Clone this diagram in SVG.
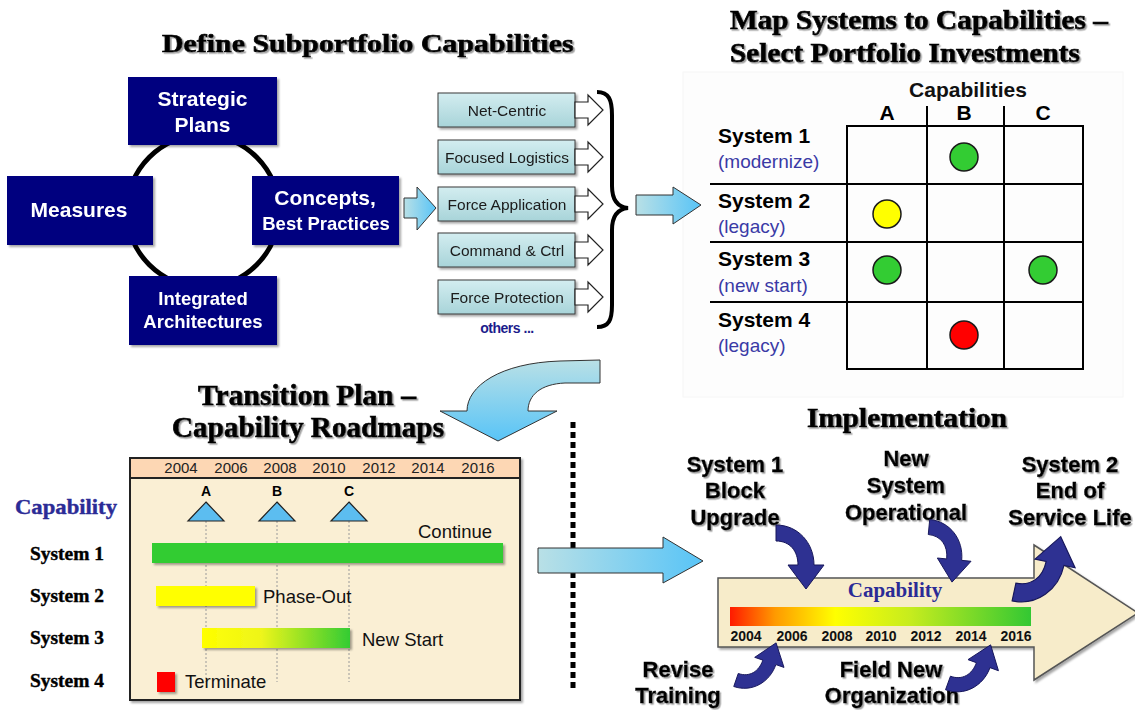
<svg xmlns="http://www.w3.org/2000/svg" width="1135" height="710" viewBox="0 0 1135 710">
  <style>
    .title { font-family: "Liberation Serif", "Times New Roman", serif; font-weight: bold; fill: #000; stroke: #000; stroke-width: 0.7; }
    .sans { font-family: "Liberation Sans", Arial, sans-serif; }
    .navybox { fill: #02027f; }
    .boxtxt { font-family: "Liberation Sans", Arial, sans-serif; font-weight: bold; fill: #fff; text-anchor: middle; }
    .capbox { fill: url(#gTeal); stroke: #3a3a3a; stroke-width: 1; }
    .captxt { font-family: "Liberation Sans", Arial, sans-serif; font-size: 15.5px; fill: #1a1a1a; text-anchor: middle; }
    .hollow { fill: #fff; stroke: #222; stroke-width: 1.2; }
    .grid { stroke: #000; stroke-width: 2; fill: none; }
    .sysname { font-family: "Liberation Sans", Arial, sans-serif; font-weight: bold; font-size: 21px; fill: #000; }
    .sysnote { font-family: "Liberation Sans", Arial, sans-serif; font-size: 19px; fill: #3a3aa6; }
    .dot { stroke: #1a1a1a; stroke-width: 1.5; }
    .rowlbl { font-family: "Liberation Serif", "Times New Roman", serif; font-weight: bold; font-size: 19px; fill: #000; stroke: #000; stroke-width: 0.4; }
    .yr { font-family: "Liberation Sans", Arial, sans-serif; font-size: 15px; fill: #222; text-anchor: middle; }
    .bartxt { font-family: "Liberation Sans", Arial, sans-serif; font-size: 18.5px; fill: #111; }
    .tri { fill: #5cbdf0; stroke: #222; stroke-width: 1.2; }
    .guide { stroke: #9a9a9a; stroke-width: 1; stroke-dasharray: 2 2; }
    .impl { font-family: "Liberation Sans", Arial, sans-serif; font-weight: bold; font-size: 22px; fill: #000; stroke: #000; stroke-width: 0.4; text-anchor: middle; }
    .bigyr { font-family: "Liberation Sans", Arial, sans-serif; font-weight: bold; font-size: 14px; fill: #111; text-anchor: middle; }
    .navyarrow { fill: #2e3192; stroke: #16165a; stroke-width: 1; }
    .blue { stroke: #333; stroke-width: 1; }
  </style>
  <defs>
    <linearGradient id="gTeal" x1="0" y1="0" x2="0" y2="1">
      <stop offset="0" stop-color="#d3edf0"/>
      <stop offset="1" stop-color="#a8d4d9"/>
    </linearGradient>
    <linearGradient id="gBlueH" x1="0" y1="0" x2="1" y2="0">
      <stop offset="0" stop-color="#b9e0e6"/>
      <stop offset="1" stop-color="#58c4f7"/>
    </linearGradient>
    <linearGradient id="gBlueV" x1="0" y1="0" x2="0" y2="1">
      <stop offset="0" stop-color="#b9e0e6"/>
      <stop offset="1" stop-color="#58c4f7"/>
    </linearGradient>
    <linearGradient id="gSys3" x1="0" y1="0" x2="1" y2="0">
      <stop offset="0" stop-color="#ffff00"/>
      <stop offset="0.4" stop-color="#eef51a"/>
      <stop offset="1" stop-color="#33cc33"/>
    </linearGradient>
    <linearGradient id="gCap" x1="0" y1="0" x2="1" y2="0">
      <stop offset="0" stop-color="#ff1a00"/>
      <stop offset="0.15" stop-color="#ff9a00"/>
      <stop offset="0.35" stop-color="#ffff00"/>
      <stop offset="0.6" stop-color="#c6ec1e"/>
      <stop offset="1" stop-color="#33c833"/>
    </linearGradient>
    <filter id="sh" x="-10%" y="-10%" width="130%" height="150%">
      <feDropShadow dx="2" dy="2" stdDeviation="1" flood-color="#000" flood-opacity="0.35"/>
    </filter>
    <filter id="tsh" x="-5%" y="-20%" width="115%" height="150%">
      <feDropShadow dx="1.5" dy="1.5" stdDeviation="0.6" flood-color="#777" flood-opacity="0.7"/>
    </filter>
    <!-- curved navy arrow, tail at origin, tip at (30,56) -->
    <path id="carrow" d="M0,-8 C22,-8 38,10 38,32 L48,32 L30,56 L12,32 L22,32 C22,18 14,8 0,8 Z"/>
  </defs>

  <rect width="1135" height="710" fill="#fff"/>
  <!-- faint panel behind the system/capability grid -->
  <rect x="683" y="72" width="440" height="325" fill="#fdfdfd" stroke="#f6f6f6" stroke-width="1"/>

  <!-- ===== Define Subportfolio Capabilities ===== -->
  <text class="title" transform="translate(162,52) scale(1.15,1)" font-size="26" filter="url(#tsh)">Define Subportfolio Capabilities</text>

  <circle cx="203" cy="211" r="76" fill="none" stroke="#000" stroke-width="5"/>

  <g id="strategic-plans" filter="url(#sh)">
    <rect class="navybox" x="128" y="77" width="149" height="68"/>
    <text class="boxtxt" x="202.5" y="106" font-size="21">Strategic</text>
    <text class="boxtxt" x="202.5" y="132" font-size="21">Plans</text>
  </g>
  <g id="measures" filter="url(#sh)">
    <rect class="navybox" x="7" y="176" width="146" height="69"/>
    <text class="boxtxt" x="79" y="217" font-size="21">Measures</text>
  </g>
  <g id="concepts" filter="url(#sh)">
    <rect class="navybox" x="252" y="176" width="147" height="69"/>
    <text class="boxtxt" x="325" y="205" font-size="21">Concepts,</text>
    <text class="boxtxt" x="326" y="230" font-size="18.5">Best Practices</text>
  </g>
  <g id="integrated-architectures" filter="url(#sh)">
    <rect class="navybox" x="129" y="276" width="148" height="69"/>
    <text class="boxtxt" x="203" y="305" font-size="18.5">Integrated</text>
    <text class="boxtxt" x="203" y="328" font-size="18.5">Architectures</text>
  </g>

  <!-- capability list -->
  <g id="cap-net-centric" filter="url(#sh)">
    <rect class="capbox" x="438" y="93" width="137" height="34"/>
    <text class="captxt" x="507" y="115.5">Net-Centric</text>
  </g>
  <g id="cap-focused-logistics" filter="url(#sh)">
    <rect class="capbox" x="438" y="140" width="137" height="34"/>
    <text class="captxt" x="507" y="162.5">Focused Logistics</text>
  </g>
  <g id="cap-force-application" filter="url(#sh)">
    <rect class="capbox" x="438" y="187" width="137" height="34"/>
    <text class="captxt" x="507" y="209.5">Force Application</text>
  </g>
  <g id="cap-command-ctrl" filter="url(#sh)">
    <rect class="capbox" x="438" y="233" width="137" height="34"/>
    <text class="captxt" x="507" y="255.5">Command &amp; Ctrl</text>
  </g>
  <g id="cap-force-protection" filter="url(#sh)">
    <rect class="capbox" x="438" y="280" width="137" height="34"/>
    <text class="captxt" x="507" y="302.5">Force Protection</text>
  </g>
  <text x="507" y="333" class="sans" font-size="14" font-weight="bold" fill="#1c1c8c" text-anchor="middle" letter-spacing="-0.5">others ...</text>

  <!-- ===== Map Systems to Capabilities ===== -->
  <text class="title" x="730" y="29" font-size="28" textLength="378" lengthAdjust="spacingAndGlyphs" filter="url(#tsh)">Map Systems to Capabilities –</text>
  <text class="title" x="730" y="62" font-size="28" textLength="350" lengthAdjust="spacingAndGlyphs" filter="url(#tsh)">Select Portfolio Investments</text>

  <g id="capability-grid">
    <text x="968" y="97" class="sans" font-size="21" font-weight="bold" fill="#111" text-anchor="middle">Capabilities</text>
    <text x="887" y="120" class="sans" font-size="21" font-weight="bold" text-anchor="middle">A</text>
    <text x="964" y="120" class="sans" font-size="21" font-weight="bold" text-anchor="middle">B</text>
    <text x="1043" y="120" class="sans" font-size="21" font-weight="bold" text-anchor="middle">C</text>
    <rect class="grid" x="847" y="126" width="236" height="243"/>
    <path class="grid" d="M927,106 V369 M1004,106 V369 M710,184 H1083 M710,242 H1083 M710,302 H1083"/>
  </g>
  <g id="system-1">
    <text class="sysname" x="718" y="143">System 1</text>
    <text class="sysnote" x="718" y="168">(modernize)</text>
    <circle class="dot" cx="964" cy="157" r="14" fill="#33cc33"/>
  </g>
  <g id="system-2">
    <text class="sysname" x="718" y="208">System 2</text>
    <text class="sysnote" x="718" y="233">(legacy)</text>
    <circle class="dot" cx="887" cy="214" r="14" fill="#ffff00"/>
  </g>
  <g id="system-3">
    <text class="sysname" x="718" y="266">System 3</text>
    <text class="sysnote" x="718" y="292">(new start)</text>
    <circle class="dot" cx="887" cy="270" r="14" fill="#33cc33"/>
    <circle class="dot" cx="1043" cy="270" r="14" fill="#33cc33"/>
  </g>
  <g id="system-4">
    <text class="sysname" x="718" y="327">System 4</text>
    <text class="sysnote" x="718" y="352">(legacy)</text>
    <circle class="dot" cx="964" cy="335" r="14" fill="#ff0000"/>
  </g>

  <!-- ===== Transition Plan ===== -->
  <text class="title" x="198" y="405" font-size="29" textLength="218" lengthAdjust="spacingAndGlyphs" filter="url(#tsh)">Transition Plan –</text>
  <text class="title" x="172" y="437" font-size="29" textLength="272" lengthAdjust="spacingAndGlyphs" filter="url(#tsh)">Capability Roadmaps</text>

  <g id="roadmap-chart">
    <rect x="130" y="458" width="390" height="242" fill="#faefd4" stroke="#222" stroke-width="2" filter="url(#sh)"/>
    <rect x="130" y="458" width="390" height="20" fill="#fdd7b4" stroke="#222" stroke-width="2"/>
    <text class="yr" x="181" y="473">2004</text>
    <text class="yr" x="231" y="473">2006</text>
    <text class="yr" x="280" y="473">2008</text>
    <text class="yr" x="329" y="473">2010</text>
    <text class="yr" x="379" y="473">2012</text>
    <text class="yr" x="428" y="473">2014</text>
    <text class="yr" x="478" y="473">2016</text>
    <path class="guide" d="M206,521 V682 M277,521 V682 M349,521 V682"/>
    <text x="206" y="496" class="sans" font-size="14" font-weight="bold" text-anchor="middle">A</text>
    <text x="277" y="496" class="sans" font-size="14" font-weight="bold" text-anchor="middle">B</text>
    <text x="349" y="496" class="sans" font-size="14" font-weight="bold" text-anchor="middle">C</text>
    <polygon class="tri" points="206,502 224,521 188,521"/>
    <polygon class="tri" points="277,502 295,521 259,521"/>
    <polygon class="tri" points="349,502 367,521 331,521"/>
  </g>
  <text x="15" y="514" font-family="Liberation Serif, serif" font-weight="bold" font-size="22" fill="#2b2b96" stroke="#2b2b96" stroke-width="0.4" textLength="102" lengthAdjust="spacingAndGlyphs">Capability</text>
  <g id="roadmap-system-1">
    <text class="rowlbl" x="30" y="560" textLength="74" lengthAdjust="spacingAndGlyphs">System 1</text>
    <text class="bartxt" x="418" y="538">Continue</text>
    <rect x="152" y="543" width="351" height="20" fill="#33cc33" filter="url(#sh)"/>
  </g>
  <g id="roadmap-system-2">
    <text class="rowlbl" x="30" y="602" textLength="74" lengthAdjust="spacingAndGlyphs">System 2</text>
    <rect x="156" y="586" width="99" height="20" fill="#ffff00" filter="url(#sh)"/>
    <text class="bartxt" x="263" y="603">Phase-Out</text>
  </g>
  <g id="roadmap-system-3">
    <text class="rowlbl" x="30" y="644" textLength="74" lengthAdjust="spacingAndGlyphs">System 3</text>
    <rect x="202" y="628" width="148" height="20" fill="url(#gSys3)" filter="url(#sh)"/>
    <text class="bartxt" x="362" y="646">New Start</text>
  </g>
  <g id="roadmap-system-4">
    <text class="rowlbl" x="30" y="687" textLength="74" lengthAdjust="spacingAndGlyphs">System 4</text>
    <rect x="157" y="672" width="18" height="20" fill="#ff0000" filter="url(#sh)"/>
    <text class="bartxt" x="185" y="688">Terminate</text>
  </g>

  <!-- ===== Implementation ===== -->
  <text class="title" x="807" y="427" font-size="28" textLength="200" lengthAdjust="spacingAndGlyphs" filter="url(#tsh)">Implementation</text>

  <g id="capability-timeline">
    <path d="M718,578 H1034 V545 L1138,613 L1034,680 V647 H718 Z" fill="#f7ecca" stroke="#555" stroke-width="1.5" filter="url(#sh)"/>
    <text x="895" y="597" font-family="Liberation Serif, serif" font-weight="bold" font-size="21" fill="#2b2b96" text-anchor="middle">Capability</text>
    <rect x="730" y="607" width="301" height="19" fill="url(#gCap)"/>
    <text class="bigyr" x="746" y="641">2004</text>
    <text class="bigyr" x="792" y="641">2006</text>
    <text class="bigyr" x="837" y="641">2008</text>
    <text class="bigyr" x="881" y="641">2010</text>
    <text class="bigyr" x="926" y="641">2012</text>
    <text class="bigyr" x="971" y="641">2014</text>
    <text class="bigyr" x="1016" y="641">2016</text>
  </g>

  <g id="event-block-upgrade" filter="url(#tsh)">
    <text class="impl" x="735" y="472">System 1</text>
    <text class="impl" x="735" y="498">Block</text>
    <text class="impl" x="735" y="525">Upgrade</text>
  </g>
  <g id="event-new-system" filter="url(#tsh)">
    <text class="impl" x="906" y="466">New</text>
    <text class="impl" x="906" y="493">System</text>
    <text class="impl" x="906" y="520">Operational</text>
  </g>
  <g id="event-end-of-life" filter="url(#tsh)">
    <text class="impl" x="1070" y="472">System 2</text>
    <text class="impl" x="1070" y="498">End of</text>
    <text class="impl" x="1070" y="525">Service Life</text>
  </g>
  <g id="event-revise-training" filter="url(#tsh)">
    <text class="impl" x="678" y="677">Revise</text>
    <text class="impl" x="678" y="703">Training</text>
  </g>
  <g id="event-field-organization" filter="url(#tsh)">
    <text class="impl" x="891" y="677">Field New</text>
    <text class="impl" x="892" y="703">Organization</text>
  </g>

  <!-- ===== connectors ===== -->
  <g id="connectors">
    <!-- concepts into the capability list -->
    <path class="blue" fill="url(#gBlueH)" d="M404,198 H417 V187 L436,208 L417,230 V218 H404 Z"/>
    <!-- hollow arrows into the brace -->
    <path class="hollow" d="M575,102 H588 V95 L603,110 L588,125 V118 H575 Z"/>
    <path class="hollow" d="M575,149 H588 V142 L603,157 L588,172 V165 H575 Z"/>
    <path class="hollow" d="M575,196 H588 V189 L603,204 L588,219 V212 H575 Z"/>
    <path class="hollow" d="M575,242 H588 V235 L603,250 L588,265 V258 H575 Z"/>
    <path class="hollow" d="M575,289 H588 V282 L603,297 L588,312 V305 H575 Z"/>
    <path d="M597,92 C609,92 612,100 612,115 L612,186 C612,201 618,207 628,208 C618,209 612,215 612,230 L612,305 C612,320 609,327 597,327" fill="none" stroke="#000" stroke-width="4"/>
    <!-- brace to grid -->
    <path class="blue" fill="url(#gBlueH)" d="M636,195 H673 V187 L701,205 L673,224 V215 H636 Z"/>
    <!-- grid down to roadmap -->
    <path class="blue" fill="url(#gBlueV)" d="M600,360 L560,361 C500,363 467,386 467,411 L440,411 L498,441 L557,411 L528,411 C528,395 541,384 565,383 L600,383 Z"/>
    <!-- divider -->
    <line x1="573" y1="422" x2="573" y2="692" stroke="#000" stroke-width="5" stroke-dasharray="6 4"/>
    <!-- roadmap to implementation -->
    <path class="blue" fill="url(#gBlueH)" d="M538,548 H663 V537 L703,561 L663,583 V573 H538 Z"/>
    <!-- event arrows -->
    <use href="#carrow" class="navyarrow" transform="translate(776,533)"/>
    <use href="#carrow" class="navyarrow" transform="translate(929,527) rotate(5.5) scale(0.94)"/>
    <use href="#carrow" class="navyarrow" transform="translate(1014,592) rotate(12) scale(1.14,-1.14)"/>
    <use href="#carrow" class="navyarrow" transform="translate(736,680) rotate(19) scale(0.86,-0.86)"/>
    <use href="#carrow" class="navyarrow" transform="translate(948,683) rotate(20) scale(0.9,-0.9)"/>
  </g>
</svg>
